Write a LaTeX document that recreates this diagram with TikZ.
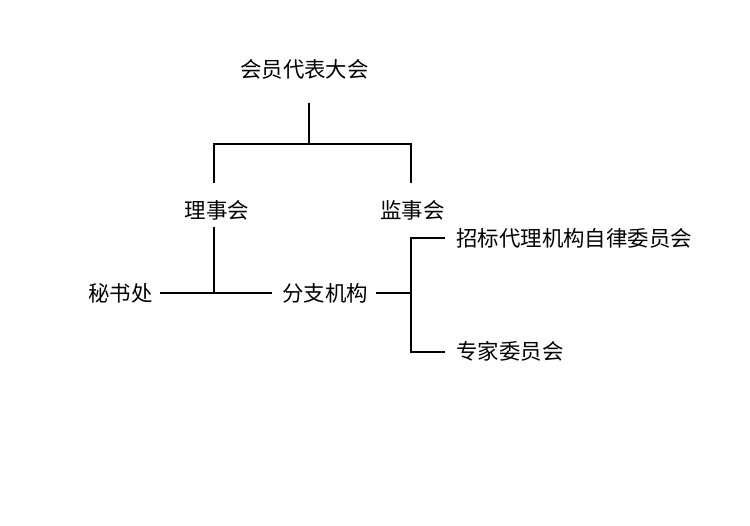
\documentclass[tikz,border=0pt]{standalone}
\usepackage{fontspec}
\newfontfamily\cjk{Noto Sans CJK SC}
\usepackage{tikz}

\begin{document}
\begin{tikzpicture}[scale=1,
        lbl/.style={font=\cjk\fontsize{12.2}{14}\selectfont, inner sep=0pt},
        conn/.style={line width=1.1pt}]
        \useasboundingbox (0,0) rectangle (15,10.52);
        % organos
        \node[lbl] (dahui) at (6.09,9.14) {会员代表大会};
        \node[lbl] (lishi) at (4.34,6.32) {理事会};
        \node[lbl] (jianshi) at (8.25,6.32) {监事会};
        \node[lbl] (mishu) at (2.41,4.66) {秘书处};
        \node[lbl] (fenzhi) at (6.50,4.66) {分支机构};
        \node[lbl, anchor=west] (zilv) at (9.12,5.76) {招标代理机构自律委员会};
        \node[lbl, anchor=west] (zhuanjia) at (9.12,3.50) {专家委员会};
        % puntos de union
        \coordinate (dahui-b) at (6.18,8.46);
        \coordinate (j1) at (6.18,7.64);
        \coordinate (jl) at (4.28,7.64);
        \coordinate (jr) at (8.22,7.64);
        \coordinate (lishi-t) at (4.28,6.86);
        \coordinate (jianshi-t) at (8.22,6.86);
        \coordinate (lishi-b) at (4.28,5.98);
        \coordinate (j2) at (4.28,4.66);
        \coordinate (mishu-r) at (3.20,4.66);
        \coordinate (fenzhi-l) at (5.44,4.66);
        \coordinate (fenzhi-r) at (7.52,4.66);
        \coordinate (j3) at (8.22,4.66);
        \coordinate (j3a) at (8.22,5.76);
        \coordinate (j3b) at (8.22,3.48);
        \coordinate (zilv-l) at (8.90,5.76);
        \coordinate (zhuanjia-l) at (8.90,3.48);
        % lineas
        \draw[conn] (dahui-b) -- (j1);
        \draw[conn] (lishi-t) -- (jl) -- (jr) -- (jianshi-t);
        \draw[conn] (lishi-b) -- (j2);
        \draw[conn] (mishu-r) -- (fenzhi-l);
        \draw[conn] (fenzhi-r) -- (j3);
        \draw[conn] (zilv-l) -- (j3a) -- (j3b) -- (zhuanjia-l);
    \end{tikzpicture}
\end{document}
